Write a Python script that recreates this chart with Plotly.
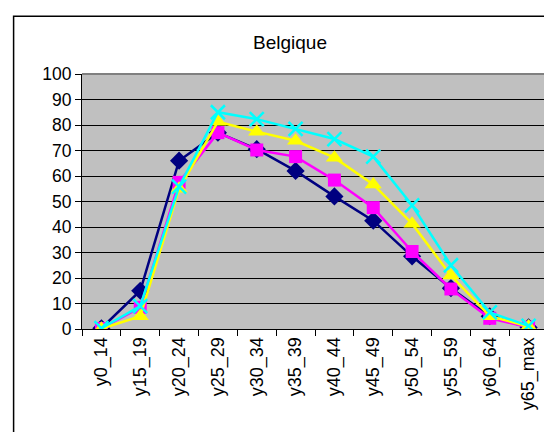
import plotly.graph_objects as go

categories = ["y0_14", "y15_19", "y20_24", "y25_29", "y30_34", "y35_39",
              "y40_44", "y45_49", "y50_54", "y55_59", "y60_64", "y65_max"]
series_navy = [0.3, 15.0, 66.0, 77.0, 70.5, 62.0, 52.0, 42.5, 28.5, 16.0, 5.0, 0.6]
series_magenta = [0.2, 8.5, 57.5, 77.0, 70.2, 67.6, 58.4, 47.6, 30.4, 15.7, 4.2, 0.7]
series_yellow = [0.1, 5.0, 55.0, 81.3, 77.4, 73.8, 67.2, 56.7, 41.3, 21.0, 5.0, 1.0]
series_cyan = [0.3, 9.0, 55.8, 85.0, 82.3, 78.5, 74.5, 67.6, 48.5, 25.0, 6.5, 1.2]
y_ticks = [0, 10, 20, 30, 40, 50, 60, 70, 80, 90, 100]

L, R, T, B = 74, 12, 66, 111
W, H = 552, 432
pw, ph = W - L - R, H - T - B

fig = go.Figure()
fig.add_trace(go.Scatter(x=categories, y=series_navy, mode="lines+markers",
                         line=dict(color="#000080", width=2.5),
                         marker=dict(symbol="diamond", size=14, color="#000080")))
fig.add_trace(go.Scatter(x=categories, y=series_magenta, mode="lines+markers",
                         line=dict(color="#FF00FF", width=2.5),
                         marker=dict(symbol="square", size=13, color="#FF00FF")))
fig.add_trace(go.Scatter(x=categories, y=series_yellow, mode="lines+markers",
                         line=dict(color="#FFFF00", width=2.5),
                         marker=dict(symbol="triangle-up", size=15, color="#FFFF00")))
fig.add_trace(go.Scatter(x=categories, y=series_cyan, mode="lines+markers",
                         line=dict(color="#00FFFF", width=2.5),
                         marker=dict(symbol="x-thin", size=14, color="#00FFFF",
                                     line=dict(color="#00FFFF", width=2.5))))

fig.update_layout(
    width=W, height=H,
    margin=dict(l=L, r=R, t=T, b=B),
    paper_bgcolor="white",
    plot_bgcolor="#C0C0C0",
    showlegend=False,
    font=dict(family="Arial, Liberation Sans, sans-serif", color="black"),
    title=dict(text="Belgique", x=282 / W, xanchor="center", y=1 - 34 / H, yanchor="middle",
               font=dict(size=19, color="black")),
    xaxis=dict(type="category", tickangle=-90, tickfont=dict(size=18),
               showline=True, linecolor="black", linewidth=1,
               ticks="outside", tickson="boundaries", ticklen=6, tickcolor="black",
               showgrid=False, mirror=False, range=[-0.5, 11.5]),
    yaxis=dict(range=[0, 100], tickvals=y_ticks, tickfont=dict(size=17.5),
               showline=True, linecolor="black", linewidth=1,
               ticks="outside", ticklen=6, tickcolor="black",
               showgrid=True, gridcolor="black", gridwidth=1, zeroline=False),
    shapes=[
        dict(type="line", xref="paper", yref="paper", x0=0, x1=1, y0=1, y1=1,
             line=dict(color="#808080", width=2), layer="above"),
        dict(type="line", xref="paper", yref="paper", x0=1, x1=1, y0=0, y1=1,
             line=dict(color="#808080", width=2), layer="above"),
        dict(type="rect", xref="paper", yref="paper",
             x0=(5.6 - L) / pw, x1=(549.5 - L) / pw,
             y0=-(B + 20) / ph, y1=(H - B - 8.3) / ph,
             line=dict(color="black", width=1.5)),
    ],
)
fig.write_html("out.html")
